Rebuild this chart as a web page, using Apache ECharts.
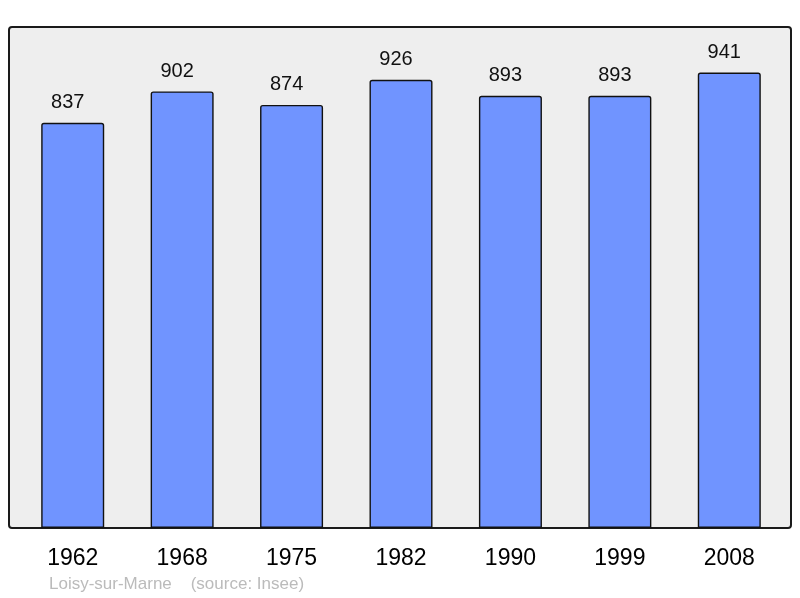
<!DOCTYPE html>
<html lang="fr">
<head>
  <meta charset="UTF-8">
  <title>Loisy-sur-Marne</title>
  <style>
    html, body { margin: 0; padding: 0; background: #fff; }
  </style>
</head>
<body>
<div id="main" style="width: 800px;height:598px;"></div>
<script src="https://cdn.jsdelivr.net/npm/echarts@6/dist/echarts.min.js"></script>
<script type="text/javascript">
  const years = ['1962', '1968', '1975', '1982', '1990', '1999', '2008']
  const population = [837, 902, 874, 926, 893, 893, 941]
  const footer = 'Loisy-sur-Marne    (source: Insee)'

  const Chart = echarts.init(document.getElementById('main'), null, {renderer: 'canvas'})

  const option = {
    animation: false,
    graphic: [
      {
        type: 'rect',
        z: -10,
        shape: {x: 9, y: 27, width: 782, height: 501, r: 3},
        style: {fill: '#eeeeee', stroke: '#1a1a1a', lineWidth: 2}
      },
      {
        type: 'text',
        left: 49,
        top: 576,
        style: {
          text: footer,
          fill: '#bbbbbb',
          font: '17px "Liberation Sans", Arial, sans-serif'
        }
      }
    ],
    grid: {
      left: 18,
      right: 16,
      top: 27,
      bottom: 70
    },
    xAxis: {
      type: 'category',
      data: years,
      axisLine: {show: false},
      axisTick: {show: false},
      axisLabel: {
        color: '#000',
        fontSize: 23,
        fontFamily: '"Liberation Sans", Arial, sans-serif',
        margin: 19
      }
    },
    yAxis: {
      type: 'value',
      min: 0,
      max: 1035,
      show: false,
      splitLine: {show: false}
    },
    series: [
      {
        type: 'bar',
        data: population,
        barWidth: 63,
        itemStyle: {
          color: '#7094ff',
          borderColor: '#111',
          borderWidth: 1.4,
          borderRadius: [2, 2, 0, 0]
        },
        label: {
          show: true,
          position: 'top',
          distance: 10,
          offset: [-5, 0],
          color: '#111',
          fontSize: 20,
          fontFamily: '"Liberation Sans", Arial, sans-serif'
        }
      }
    ]
  }

  Chart.setOption(option)
</script>
</body>
</html>
